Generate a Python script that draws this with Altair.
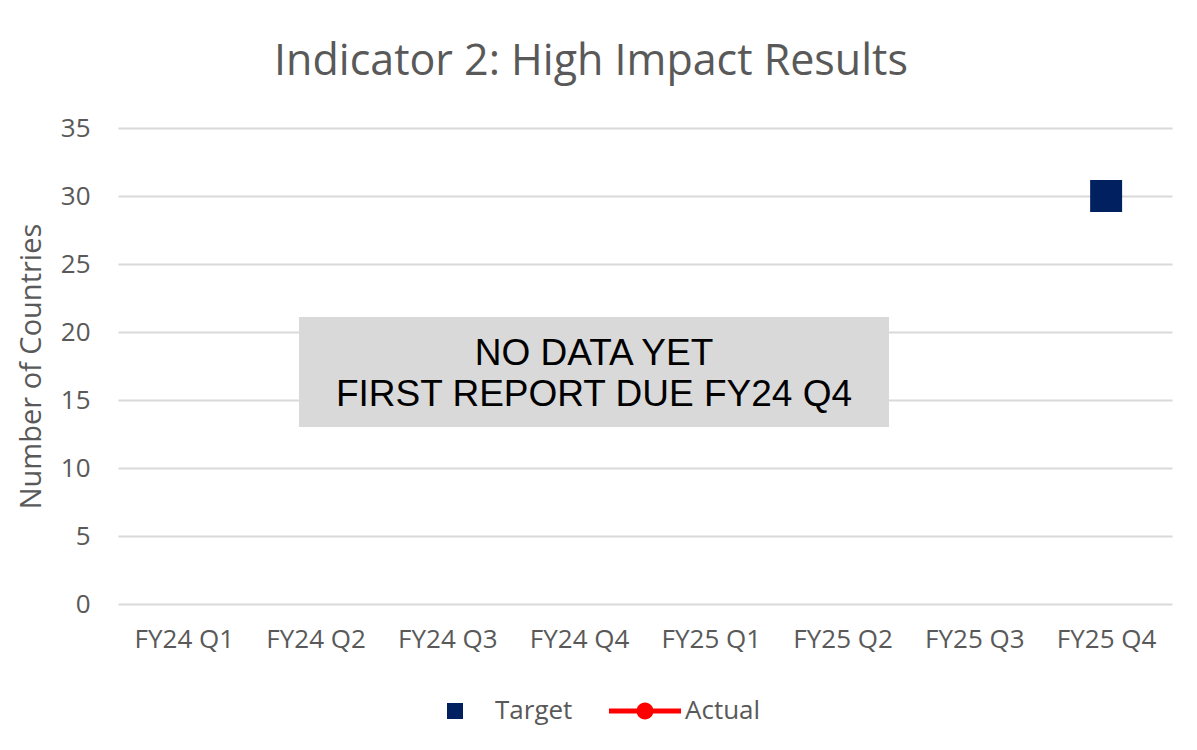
import altair as alt
import pandas as pd

quarters = ["FY24 Q1", "FY24 Q2", "FY24 Q3", "FY24 Q4",
            "FY25 Q1", "FY25 Q2", "FY25 Q3", "FY25 Q4"]
target = [None, None, None, None, None, None, None, 30]
actual = [None, None, None, None, None, None, None, None]
series_names = ["Target", "Actual"]
series_colors = ["#002060", "#ff0000"]
y_ticks = [0, 5, 10, 15, 20, 25, 30, 35]
title_text = "Indicator 2: High Impact Results"
note_lines = ["NO DATA YET", "FIRST REPORT DUE FY24 Q4"]

rows = []
for q, t, a in zip(quarters, target, actual):
    rows.append({"quarter": q, "series": "Target", "value": t})
    rows.append({"quarter": q, "series": "Actual", "value": a})
df = pd.DataFrame(rows)

SQUARE = "M-0.222,-0.222L0.222,-0.222L0.222,0.222L-0.222,0.222Z"
LINE_DOT = ("M-1,-0.07L1,-0.07L1,0.07L-1,0.07Z "
            "M0.236,0A0.236,0.236 0 1,1 -0.236,0A0.236,0.236 0 1,1 0.236,0Z")

FONT = "Open Sans"
GRAY = "#595959"

x_enc = alt.X("quarter:N", sort=quarters, scale=alt.Scale(domain=quarters),
              axis=alt.Axis(title=None, labelAngle=0, labelPadding=22))
y_enc = alt.Y("value:Q", scale=alt.Scale(domain=[0, 35]),
              axis=alt.Axis(values=y_ticks, title="Number of Countries",
                            labelPadding=28, titlePadding=14, titleFontSize=29))

base = alt.Chart(df)

target_pts = base.transform_filter(alt.datum.series == "Target").mark_point(
    filled=True, size=20736, opacity=1, strokeWidth=0
).encode(
    x=x_enc, y=y_enc,
    color=alt.Color("series:N", scale=alt.Scale(domain=series_names, range=series_colors),
                    legend=alt.Legend(title=None, orient="none", legendX=301, legendY=547,
                                      direction="horizontal", symbolSize=5184,
                                      symbolStrokeWidth=0, labelFont=FONT, labelFontSize=26,
                                      labelColor=GRAY, labelOffset=4, columnPadding=36)),
    shape=alt.Shape("series:N", scale=alt.Scale(domain=series_names, range=[SQUARE, LINE_DOT])),
)

actual_line = base.transform_filter(alt.datum.series == "Actual").mark_line(
    color="#ff0000", strokeWidth=5, point=alt.OverlayMarkDef(color="#ff0000", size=300, filled=True)
).encode(x=x_enc, y=y_enc)

one = alt.Data(values=[{}])

box = alt.Chart(one).mark_rect(color="#d9d9d9").encode(
    x=alt.value(181), x2=alt.value(771), y=alt.value(189), y2=alt.value(299)
)
box_text = alt.Chart(one).mark_text(
    text=note_lines, font="Liberation Sans", fontSize=37, color="black",
    lineHeight=41, align="center", baseline="middle"
).encode(x=alt.value(476), y=alt.value(226))

title = alt.Chart(one).mark_text(
    text=title_text, font=FONT, fontSize=43, color=GRAY,
    align="center", baseline="alphabetic"
).encode(x=alt.value(473), y=alt.value(-53))

chart = alt.layer(box, box_text, actual_line, target_pts, title).properties(
    width=1054, height=476,
    autosize=alt.AutoSizeParams(type="none"),
    padding={"left": 110, "top": 120, "right": 10, "bottom": 130},
).configure_view(stroke=None).configure_axis(
    labelFont=FONT, labelFontSize=26, labelColor=GRAY,
    titleFont=FONT, titleFontSize=26, titleColor=GRAY, titleFontWeight="normal",
    domain=False, ticks=False, gridColor="#d9d9d9", gridWidth=2,
).configure_axisX(grid=False)

chart.save("out.html", embed_options={"renderer": "svg", "actions": False})
